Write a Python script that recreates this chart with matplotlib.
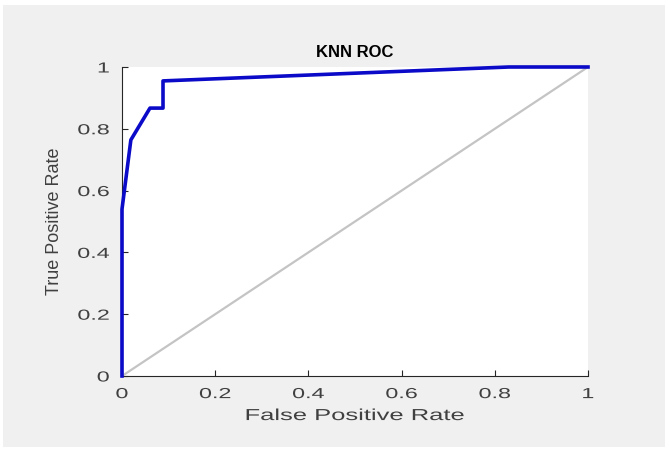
import matplotlib
matplotlib.use("Agg")
import matplotlib.pyplot as plt
from matplotlib.patheffects import AbstractPathEffect
from matplotlib.transforms import Affine2D

fpr = [0.0, 0.0, 0.019, 0.06, 0.088, 0.088, 0.83, 1.0]
tpr = [0.0, 0.54, 0.764, 0.867, 0.867, 0.955, 1.0, 1.0]
ticks = [0, 0.2, 0.4, 0.6, 0.8, 1]
tick_labels = ["0", "0.2", "0.4", "0.6", "0.8", "1"]


class Stretch(AbstractPathEffect):
    """Draw text glyphs widened along the text direction."""
    def __init__(self, sx, anchor='center'):
        super().__init__()
        self.sx = sx
        self.anchor = anchor

    def draw_path(self, renderer, gc, tpath, affine, rgbFace=None):
        ext = tpath.get_extents()
        if self.anchor == 'right':
            ax_ = ext.x1
        elif self.anchor == 'left':
            ax_ = ext.x0
        else:
            ax_ = 0.5 * (ext.x0 + ext.x1)
        pre = Affine2D().translate(-ax_, 0).scale(self.sx, 1).translate(ax_, 0)
        renderer.draw_path(gc, tpath, pre + affine, rgbFace)


plt.rcParams['font.family'] = ['Liberation Sans', 'DejaVu Sans']
W, H = 669, 451
fig = plt.figure(figsize=(W/100, H/100), dpi=100, facecolor='white')
bg = fig.add_axes([3/W, 1 - 447/H, (665-3)/W, (447-5)/H])
bg.set_facecolor('#f0f0f0')
bg.set_xticks([]); bg.set_yticks([])
for s in bg.spines.values():
    s.set_visible(False)

ax = fig.add_axes([122/W, 1 - 376/H, (588-122)/W, (376-67)/H])
ax.set_facecolor('white')
ax.plot([0, 1], [0, 1], color='#c4c4c4', lw=1.6, zorder=2)
ax.plot(fpr, tpr, color='#0a0ac8', lw=2.6, zorder=3, clip_on=False)
ax.set_xlim(0, 1)
ax.set_ylim(0, 1)
ax.set_xticks(ticks)
ax.set_xticklabels(tick_labels)
ax.set_yticks(ticks)
ax.set_yticklabels(tick_labels)
ax.spines['top'].set_visible(False)
ax.spines['right'].set_visible(False)
for s in ['left', 'bottom']:
    ax.spines[s].set_color('#262626')
    ax.spines[s].set_linewidth(0.8)
ax.tick_params(direction='in', length=4, width=0.8, colors='#262626',
               labelsize=10.5, labelcolor='#404040')
ax.tick_params(axis='x', pad=8)
ax.tick_params(axis='y', pad=9)
ax.set_xlabel('False Positive Rate', fontsize=11.5, color='#404040', labelpad=5)
ax.set_ylabel('True Positive Rate', fontsize=13, color='#404040')
ax.yaxis.set_label_coords(-0.126, 0.5)
ax.set_title('KNN ROC', fontsize=12, fontweight='bold', color='black', pad=7)

for lab in ax.get_xticklabels():
    lab.set_path_effects([Stretch(1.6)])
for lab in ax.get_yticklabels():
    lab.set_path_effects([Stretch(1.6, anchor='right')])
ax.xaxis.label.set_path_effects([Stretch(1.6)])

fig.savefig('out.png', dpi=100, facecolor='white')
